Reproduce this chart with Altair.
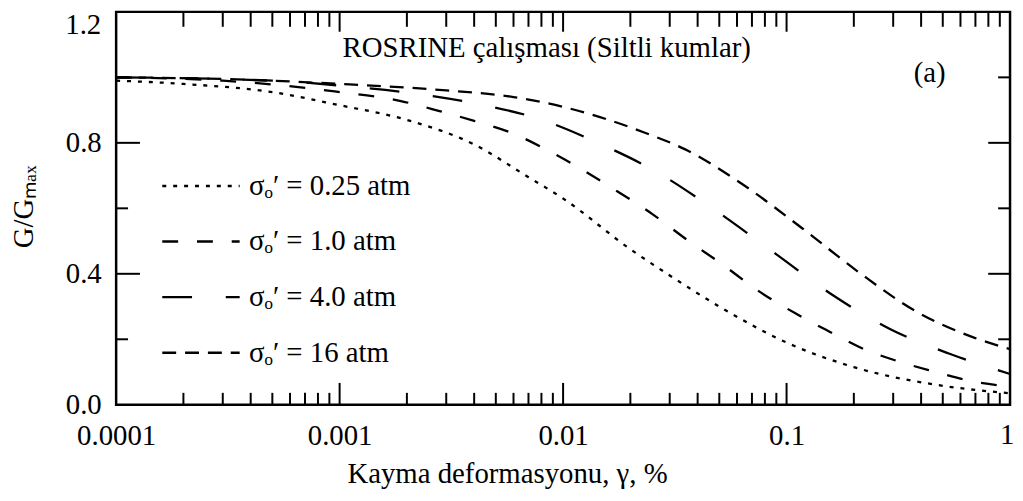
import altair as alt
import pandas as pd

# ---------------- data ----------------
series_names = ["σₒ′ = 0.25 atm", "σₒ′ = 1.0 atm", "σₒ′ = 4.0 atm", "σₒ′ = 16 atm"]

x_025 = [0.0001, 0.0002, 0.0005, 0.001, 0.002, 0.004, 0.007, 0.01, 0.02, 0.03, 0.05, 0.1, 0.2, 0.5, 1.0]
y_025 = [0.99, 0.98, 0.955, 0.915, 0.87, 0.795, 0.695, 0.63, 0.475, 0.395, 0.30, 0.19, 0.115, 0.058, 0.035]

x_1 = [0.0001, 0.0003, 0.00095, 0.0019, 0.0028, 0.004, 0.0059, 0.0084, 0.0172, 0.025, 0.036, 0.052, 0.074, 0.109, 0.155, 0.222, 0.325, 0.466, 0.66, 1.0]
y_1 = [1.0, 0.99, 0.957, 0.927, 0.897, 0.867, 0.83, 0.78, 0.655, 0.583, 0.503, 0.427, 0.35, 0.28, 0.224, 0.17, 0.13, 0.10, 0.073, 0.055]

x_4 = [0.0001, 0.0005, 0.001, 0.0023, 0.0042, 0.0078, 0.0143, 0.0264, 0.048, 0.0885, 0.16, 0.293, 0.54, 1.0]
y_4 = [1.0, 0.99, 0.975, 0.948, 0.918, 0.873, 0.80, 0.71, 0.594, 0.463, 0.336, 0.23, 0.155, 0.094]

x_16 = [0.0001, 0.0003, 0.001, 0.003, 0.006, 0.01, 0.016, 0.0234, 0.0352, 0.063, 0.117, 0.215, 0.38, 0.685, 1.0]
y_16 = [1.0, 0.995, 0.98, 0.96, 0.94, 0.91, 0.87, 0.83, 0.78, 0.675, 0.54, 0.40, 0.285, 0.206, 0.17]

x_label_values = [0.0001, 0.001, 0.01, 0.1]
x_last_label = [1]
y_label_values = [0.0, 0.4, 0.8]
y_top_label = [1.2]
x_decade_ticks = [0.001, 0.01, 0.1]
x_minor_ticks = [k * d for d in [0.0001, 0.001, 0.01, 0.1] for k in range(2, 10)]
y_major_ticks = [0.4, 0.8]
y_minor_ticks = [0.2, 0.6, 1.0]

title_text = "ROSRINE çalışması (Siltli kumlar)"
panel_text = "(a)"
x_title = "Kayma deformasyonu, γ, %"
y_title = "G/Gₘₐₓ"

# ---------------- build tables ----------------
rows = []
for name, xs, ys in zip(series_names, [x_025, x_1, x_4, x_16], [y_025, y_1, y_4, y_16]):
    for i, (a, b) in enumerate(zip(xs, ys)):
        rows.append({"series": name, "x": a, "y": b, "order": i})
df = pd.DataFrame(rows)

W, H = 901, 396
FONT = "Liberation Serif"
FS = 29

xscale = alt.Scale(type="log", domain=[0.0001, 1], nice=False)
yscale = alt.Scale(domain=[0, 1.2], nice=False, zero=False)

dash_range = [[4, 7], [16, 19], [30, 34], [14, 9]]

x_axis = alt.Axis(
    values=x_label_values, format=".4~f", title=x_title, ticks=False, tickSize=0,
    domain=False, grid=False, labelPadding=17, labelFontSize=FS, labelFont=FONT,
    labelColor="black", titleFont=FONT, titleFontSize=FS, titleFontWeight="normal",
    titleColor="black", titleX=394, titleY=78, titleBaseline="alphabetic",
    titleAlign="center", labelFlush=False, labelOverlap=False)

y_axis = alt.Axis(
    values=y_label_values, format=".1f", title=y_title, ticks=False, tickSize=0,
    domain=False, grid=False, labelPadding=15, labelFontSize=FS, labelFont=FONT,
    labelColor="black", titleFont=FONT, titleFontSize=FS, titleFontWeight="normal",
    titleColor="black", titleX=-93, titleY=196, titleBaseline="middle", titleAlign="center",
    titleAngle=270, labelFlush=False, labelOverlap=False)

lines = alt.Chart(df).mark_line(color="black", strokeWidth=2.3, interpolate="monotone", clip=True).encode(
    x=alt.X("x:Q", scale=xscale, axis=x_axis),
    y=alt.Y("y:Q", scale=yscale, axis=y_axis),
    strokeDash=alt.StrokeDash("series:N", sort=series_names,
        scale=alt.Scale(domain=series_names, range=dash_range),
        legend=alt.Legend(orient="none", legendX=45, legendY=135, title=None,
                          symbolType="stroke", symbolSize=6084, symbolStrokeWidth=2.5,
                          symbolStrokeColor="black", labelFontSize=FS, labelFont=FONT,
                          labelColor="black", rowPadding=-25, labelOffset=8, padding=0,
                          labelLimit=400)),
    order="order:Q",
)

def vticks(values, y0, y1):
    return alt.Chart(pd.DataFrame({"x": values})).mark_rule(color="black", strokeWidth=2).encode(
        x=alt.X("x:Q", scale=xscale), y=alt.value(y0), y2=alt.value(y1))

def hticks(values, x0, x1):
    return alt.Chart(pd.DataFrame({"y": values})).mark_rule(color="black", strokeWidth=2).encode(
        y=alt.Y("y:Q", scale=yscale), x=alt.value(x0), x2=alt.value(x1))

ticks = [
    vticks(x_minor_ticks, H, H - 12),
    vticks(x_decade_ticks, H, H - 22),
    vticks(x_minor_ticks, 0, 15),
    vticks(x_decade_ticks, 0, 20),
    hticks(y_minor_ticks, 0, 12),
    hticks(y_major_ticks, 0, 24),
    hticks(y_minor_ticks, W, W - 12),
    hticks(y_major_ticks, W, W - 22),
]

# end labels that sit at the plot corners
top_label = alt.Chart(pd.DataFrame({"y": y_top_label})).mark_text(
    font=FONT, fontSize=FS, color="black", align="right", baseline="middle", dy=13).encode(
    y=alt.Y("y:Q", scale=yscale), x=alt.value(-15), text=alt.Text("y:Q", format=".1f"))

last_label = alt.Chart(pd.DataFrame({"x": x_last_label})).mark_text(
    font=FONT, fontSize=FS, color="black", align="center", baseline="top", dx=-3).encode(
    x=alt.X("x:Q", scale=xscale), y=alt.value(H + 17), text=alt.Text("x:Q", format=".4~f"))

title_mark = alt.Chart(pd.DataFrame({"t": [title_text]})).mark_text(
    font=FONT, fontSize=FS, color="black", align="center", baseline="middle").encode(
    text="t:N", x=alt.value(434), y=alt.value(36))

panel_mark = alt.Chart(pd.DataFrame({"t": [panel_text]})).mark_text(
    font=FONT, fontSize=FS, color="black", align="center", baseline="middle").encode(
    text="t:N", x=alt.value(820), y=alt.value(62))

chart = alt.layer(lines, *ticks, top_label, last_label, title_mark, panel_mark).properties(
    width=W, height=H,
    background="white",
    autosize=alt.AutoSizeParams(type="none"),
    padding={"left": 109, "top": 2, "right": 5, "bottom": 84},
).configure_view(stroke="black", strokeWidth=2.5)

chart.save("out.html", embed_options={"renderer": "svg", "actions": False})
